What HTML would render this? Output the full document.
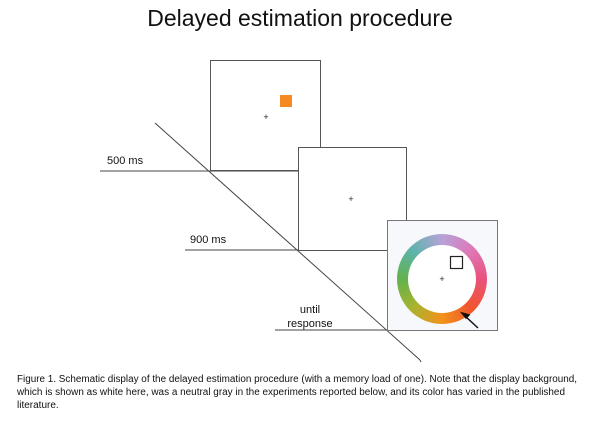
<!DOCTYPE html>
<html><head><meta charset="utf-8"><style>
body{margin:0;width:600px;height:422px;background:#fff;position:relative;overflow:hidden;font-family:"Liberation Sans",sans-serif}
.t{position:absolute;white-space:nowrap}
.cap{position:absolute;left:17px;font-size:10px;line-height:12.5px;color:#111;white-space:nowrap;transform-origin:0 0}
</style></head><body>
<div class="t" style="left:0;width:600px;text-align:center;top:5px;font-size:23px;color:#111">Delayed estimation procedure</div>
<svg width="600" height="422" style="position:absolute;left:0;top:0">
<g stroke="#444" stroke-width="1" fill="none">
<line x1="155" y1="123" x2="420" y2="360"/>
<line x1="100" y1="171" x2="298" y2="171"/>
<line x1="185" y1="250" x2="387" y2="250"/>
<line x1="275" y1="330" x2="387" y2="330"/>
</g>
<rect x="210.5" y="60.5" width="110" height="110" fill="#fff" stroke="#555"/>
<rect x="280" y="95" width="12" height="12" fill="#f58a23"/>
<text x="266" y="120" font-size="9" text-anchor="middle" fill="#222">+</text>
<rect x="298.5" y="147.5" width="108" height="103" fill="#fff" stroke="#555"/>
<text x="351" y="202" font-size="9" text-anchor="middle" fill="#222">+</text>
<rect x="387.5" y="220.5" width="110" height="110" fill="#f7f8fb" stroke="#777"/>
<line x1="420" y1="360" x2="421" y2="362" stroke="#444"/>
</svg>
<div style="position:absolute;left:397px;top:234px;width:90px;height:90px;border-radius:50%;background:conic-gradient(#b6a2d8,#de78b8 45deg,#e9527c 90deg,#f0552e 135deg,#f2921c 180deg,#a9b32e 225deg,#62b24e 270deg,#5eb3ad 315deg,#b6a2d8 360deg)"></div>
<div style="position:absolute;left:408px;top:245px;width:68px;height:68px;border-radius:50%;background:#fff"></div>
<svg width="600" height="422" style="position:absolute;left:0;top:0">
<text x="442" y="282" font-size="9" text-anchor="middle" fill="#222">+</text>
<rect x="450.5" y="256.5" width="12" height="12" fill="#fff" stroke="#222" stroke-width="1.2"/>
<g stroke="#111" stroke-width="1.5" fill="#111">
<line x1="478" y1="328" x2="465" y2="316"/>
<polygon points="462,313 469,315 466,318" />
</g>
</svg>
<div class="t" style="left:107px;top:155px;font-size:11px;color:#111">500 ms</div>
<div class="t" style="left:190px;top:234px;font-size:11px;color:#111">900 ms</div>
<div class="t" style="left:282px;top:303px;width:56px;text-align:center;font-size:11px;line-height:14px;color:#111">until<br>response</div>
<div class="cap" style="top:374px">Figure 1. Schematic display of the delayed estimation procedure (with a memory load of one). Note that the display background,</div>
<div class="cap" style="top:387px">which is shown as white here, was a neutral gray in the experiments reported below, and its color has varied in the published</div>
<div class="cap" style="top:400px">literature.</div>
<script>
document.querySelectorAll('.cap').forEach(function(c){if(c.textContent.length>50){var w=c.getBoundingClientRect().width;var target=c.textContent.indexOf('Figure')===0?560:548;c.style.transform='scaleX('+(target/w)+')';}});
</script>
</body></html>
